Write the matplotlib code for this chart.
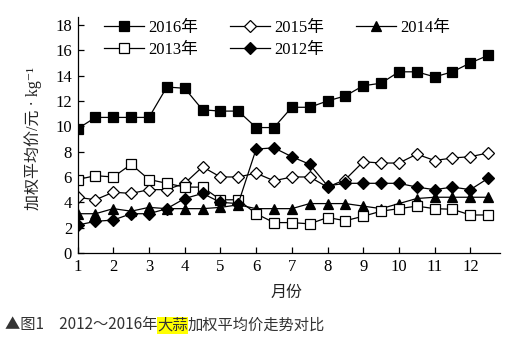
import matplotlib
matplotlib.use('Agg')
import matplotlib.pyplot as plt

plt.rcParams['font.family'] = ['Liberation Serif', 'DejaVu Serif', 'Noto Sans CJK SC']

# 月份（半月一个点）
months = [1 + 0.5 * i for i in range(24)]

# 各年份加权平均价（元/kg）
p2016 = [9.8, 10.7, 10.7, 10.7, 10.7, 13.1, 13.0, 11.3, 11.2, 11.2, 9.9, 9.9,
         11.5, 11.5, 12.0, 12.4, 13.2, 13.4, 14.3, 14.3, 13.9, 14.3, 15.0, 15.6]
p2015 = [4.4, 4.2, 4.8, 4.7, 5.0, 5.0, 5.5, 6.8, 6.0, 6.0, 6.3, 5.7,
         6.0, 6.0, 5.2, 5.8, 7.2, 7.1, 7.1, 7.8, 7.3, 7.5, 7.6, 7.9]
p2014 = [3.1, 3.1, 3.5, 3.3, 3.6, 3.5, 3.5, 3.5, 3.6, 3.8, 3.5, 3.5,
         3.5, 3.9, 3.9, 3.9, 3.7, 3.5, 3.9, 4.3, 4.4, 4.4, 4.4, 4.4]
p2013 = [5.8, 6.1, 6.0, 7.0, 5.8, 5.5, 5.2, 5.2, 4.2, 4.2, 3.1, 2.4,
         2.4, 2.3, 2.8, 2.55, 2.9, 3.3, 3.5, 3.7, 3.5, 3.45, 3.0, 3.0]
p2012 = [2.2, 2.5, 2.6, 3.1, 3.1, 3.5, 4.3, 4.7, 4.0, 3.9, 8.2, 8.3,
         7.6, 7.0, 5.3, 5.5, 5.5, 5.5, 5.5, 5.2, 5.0, 5.2, 5.0, 5.9]

xticks = list(range(1, 13))
yticks = list(range(0, 19, 2))

fig = plt.figure(figsize=(5.31, 3.47), dpi=100)
ax = fig.add_axes([0.1461, 0.2709, 0.7955, 0.681])

kw = dict(color='black', linewidth=0.9, markeredgecolor='black', markeredgewidth=0.9)
l16, = ax.plot(months, p2016, marker='s', markersize=7.5, markerfacecolor='black', label='2016年', **kw)
l15, = ax.plot(months, p2015, marker='D', markersize=6.5, markerfacecolor='white', label='2015年', **kw)
l14, = ax.plot(months, p2014, marker='^', markersize=7.5, markerfacecolor='black', label='2014年', **kw)
l13, = ax.plot(months, p2013, marker='s', markersize=7.5, markerfacecolor='white', label='2013年', **kw)
l12, = ax.plot(months, p2012, marker='D', markersize=6, markerfacecolor='black', label='2012年', **kw)

ax.set_xlim(1, 12.83)
ax.set_ylim(0, 18.65)
ax.set_xticks(xticks)
ax.set_yticks(yticks)
ax.tick_params(direction='in', length=4, width=0.9, labelsize=12, pad=4)
ax.spines['top'].set_visible(False)
ax.spines['right'].set_visible(False)
for s in ['left', 'bottom']:
    ax.spines[s].set_linewidth(0.9)

# 图例：两行三列
ax.legend(handles=[l16, l13, l15, l12, l14], ncol=3, frameon=False, fontsize=12,
          loc='upper left', bbox_to_anchor=(0.063, 0.985), handlelength=2.4,
          handletextpad=0.25, columnspacing=1.9, labelspacing=0.32,
          borderaxespad=0, borderpad=0)

fig.text(33 / 531, 1 - 138 / 347, '加权平均价/元 · kg⁻¹', rotation=90,
         ha='center', va='center', fontsize=11.5, color='#222222')
fig.text(287 / 531, 1 - 293 / 347, '月份', ha='center', va='center',
         fontsize=11.5, color='#222222')

# 图题，"大蒜"黄色高亮
cap = dict(fontsize=11, color='#333333', family=['Noto Sans CJK SC', 'DejaVu Sans'])
t1 = fig.text(5 / 531, 1 - 325 / 347, '▲图1　2012～2016年', va='center', **cap)
t2 = plt.annotate('大蒜', xy=(1, 0), xycoords=t1, va='bottom',
                  bbox=dict(boxstyle='square,pad=0', facecolor='#ffff00', edgecolor='none'), **cap)
plt.annotate('加权平均价走势对比', xy=(1, 0), xycoords=t2, va='bottom', **cap)

fig.savefig('out.png', dpi=100)
